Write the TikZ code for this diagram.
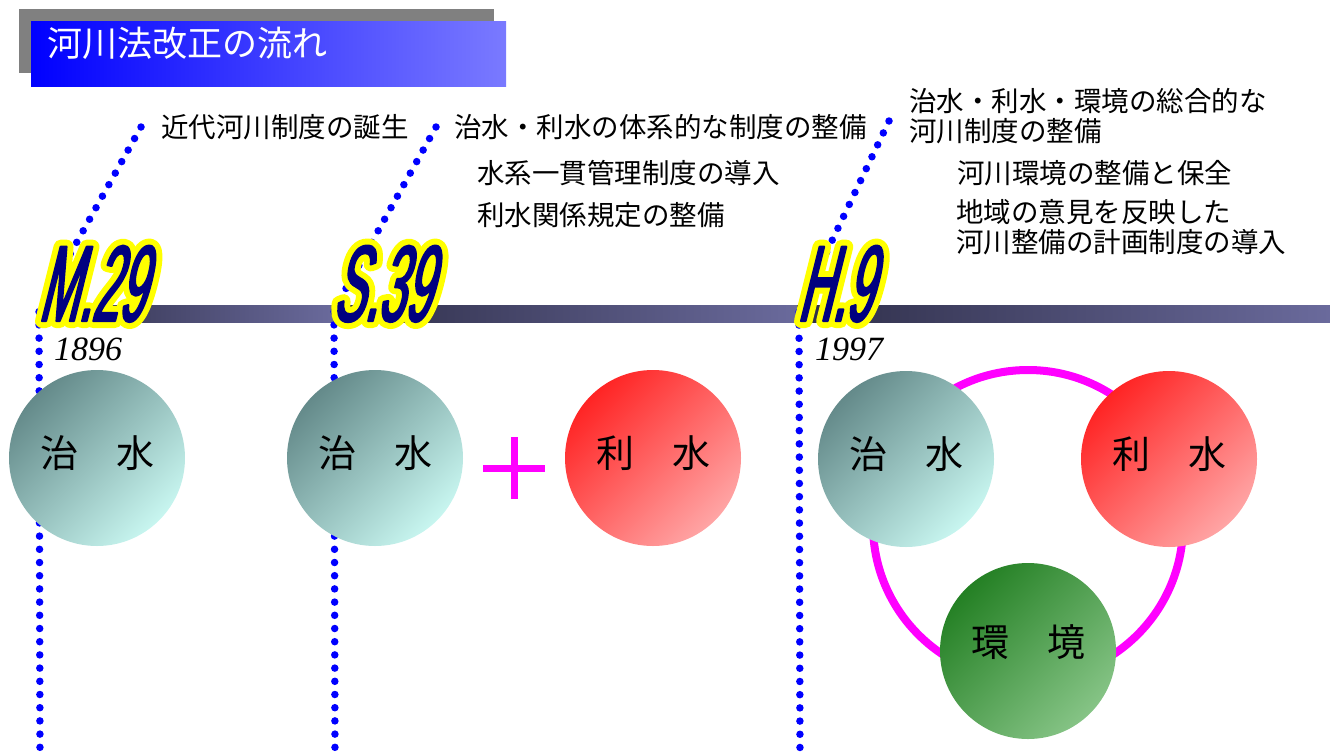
\documentclass[tikz,border=0pt]{standalone}
\usepackage{fontspec}
\setmainfont{Noto Sans CJK JP}
\newfontfamily\erafont[FakeStretch=0.44,FakeSlant=0.25,FakeBold=2]{Liberation Sans}
\newfontfamily\eraoutline[FakeStretch=0.44,FakeSlant=0.25,FakeBold=13]{Liberation Sans}
\newfontfamily\yearfont{Liberation Serif Italic}
\newcommand{\roundjoin}{\special{pdf:literal 1 j 1 J}}
\definecolor{titlegray}{RGB}{128,128,128}
\definecolor{titleblue}{RGB}{0,0,255}
\definecolor{titlelight}{RGB}{122,122,255}
\definecolor{bardark}{RGB}{46,46,72}
\definecolor{barlight}{RGB}{106,106,156}
\definecolor{dotblue}{RGB}{0,0,255}
\definecolor{eranavy}{RGB}{0,0,128}
\definecolor{erayellow}{RGB}{255,255,0}
\definecolor{ringmag}{RGB}{255,0,255}
\definecolor{tealdark}{RGB}{100,138,138}
\definecolor{teallight}{RGB}{200,246,240}
\definecolor{reddark}{RGB}{255,36,36}
\definecolor{redlight}{RGB}{255,165,165}
\definecolor{greendark}{RGB}{36,128,36}
\definecolor{greenlight}{RGB}{134,196,134}
\tikzset{
  jp/.style={font=\fontsize{27.5}{29.5}\selectfont, anchor=west, inner sep=0pt, align=left},
  era/.style={font=\erafont\fontsize{108}{108}\selectfont, text=eranavy, anchor=base west, inner sep=0pt, text depth=0pt},
  eraline/.style={font=\eraoutline\fontsize{108}{108}\selectfont, text=erayellow, anchor=base west, inner sep=0pt, text depth=0pt},
  yearlabel/.style={font=\yearfont\fontsize{34}{34}\selectfont, anchor=base west, inner sep=0pt},
  dotline/.style={dotblue, line width=7.5pt, line cap=round, dash pattern=on 0pt off 13.2pt},
  bar/.style={left color=bardark, right color=barlight, draw=none},
  ball/.style={circle, minimum size=176pt, inner sep=0pt, draw=none},
  tealball/.style={ball, top color=tealdark, bottom color=teallight, shading angle=45},
  redball/.style={ball, top color=reddark, bottom color=redlight, shading angle=45},
  greenball/.style={ball, top color=greendark, bottom color=greenlight, shading angle=45},
  balltext/.style={font=\fontsize{38}{38}\selectfont, inner sep=0pt},
}
\begin{document}
\begin{tikzpicture}[x=1pt,y=-1pt]
\useasboundingbox (0,0) rectangle (1330,753);
% title
\fill[titlegray] (19,9) rectangle (494,73);
\shade[left color=titleblue, right color=titlelight] (31,21) rectangle (506,86);
\node[anchor=west, inner sep=0pt, text=white, font=\fontsize{35}{35}\selectfont] (title) at (47,43) {河川法改正の流れ};
% timeline bars
\shade[bar] (40,305) rectangle (335,322);
\shade[bar] (335,305) rectangle (797,322);
\shade[bar] (797,305) rectangle (1330,322);
% dotted leaders
\coordinate (t1) at (141,127); \coordinate (k1) at (39,310); \coordinate (b1) at (40,760);
\coordinate (t2) at (436,127); \coordinate (k2) at (334,310); \coordinate (b2) at (335,760);
\coordinate (t3) at (889,121); \coordinate (k3) at (799,310); \coordinate (b3) at (800,760);
\draw[dotline] (t1) -- (k1) -- (b1);
\draw[dotline] (t2) -- (k2) -- (b2);
\draw[dotline] (t3) -- (k3) -- (b3);
% era labels
\node[eraline] (m29o) at (38,321) {\roundjoin M.29};
\node[era] (m29) at (38,321) {\roundjoin M.29};
\node[eraline] (s39o) at (332,321) {\roundjoin S.39};
\node[era] (s39) at (332,321) {\roundjoin S.39};
\node[eraline] (h9o) at (797,321) {\roundjoin H.9};
\node[era] (h9) at (797,321) {\roundjoin H.9};
\node[yearlabel] (y1896) at (54,360) {1896};
\node[yearlabel] (y1997) at (815,360) {1997};
% texts
\node[jp] (txt1) at (161,127) {近代河川制度の誕生};
\node[jp] (txt2) at (454,127) {治水・利水の体系的な制度の整備};
\node[jp] (txt3) at (477,173) {水系一貫管理制度の導入};
\node[jp] (txt4) at (477,215) {利水関係規定の整備};
\node[jp] (txt5) at (909,116) {治水・利水・環境の総合的な\\河川制度の整備};
\node[jp] (txt6) at (957,173) {河川環境の整備と保全};
\node[jp] (txt7) at (956,227) {地域の意見を反映した\\河川整備の計画制度の導入};
% ring
\draw[ringmag, line width=8pt] (1028,525) circle[radius=155];
% balls
\node[tealball] (c1) at (97,458) {};
\node[tealball] (c2) at (375,458) {};
\node[redball] (c3) at (653,458) {};
\node[tealball] (c4) at (906,459) {};
\node[redball] (c5) at (1169,459) {};
\node[greenball] (c6) at (1028,651) {};
\node[balltext] (l1) at ([yshift=5pt]c1) {治　水};
\node[balltext] (l2) at ([yshift=5pt]c2) {治　水};
\node[balltext] (l3) at ([yshift=5pt]c3) {利　水};
\node[balltext] (l4) at ([yshift=5pt]c4) {治　水};
\node[balltext] (l5) at ([yshift=5pt]c5) {利　水};
\node[balltext] (l6) at ([yshift=9pt]c6) {環　境};
% plus sign
\coordinate (plus) at (514,468);
\draw[ringmag, line width=7pt] ([xshift=-31pt]plus) -- ([xshift=31pt]plus);
\draw[ringmag, line width=7pt] ([yshift=31pt]plus) -- ([yshift=-31pt]plus);
\end{tikzpicture}
\end{document}
